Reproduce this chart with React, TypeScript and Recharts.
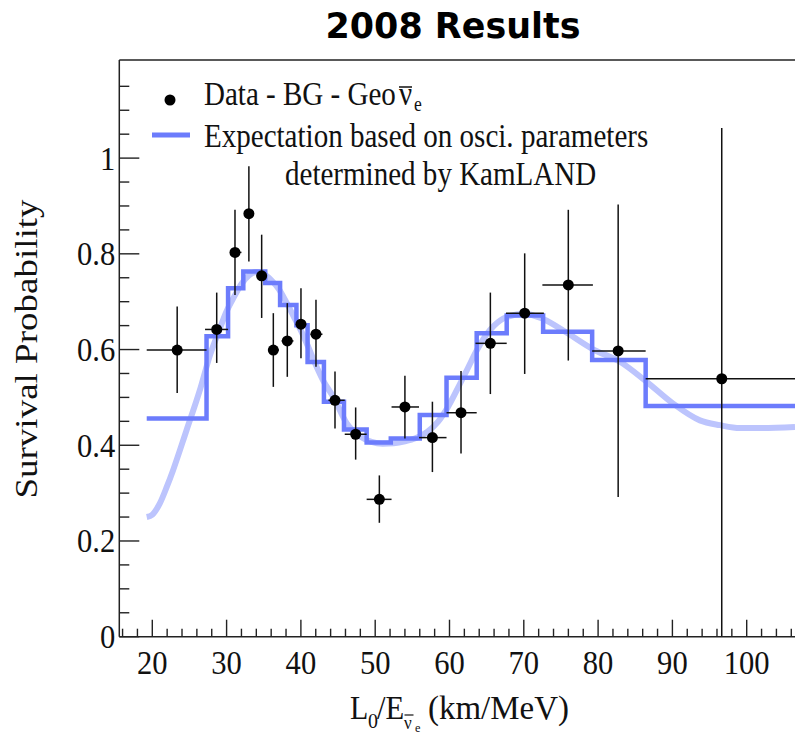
import React from 'react';
import { ComposedChart, Line, Scatter, ErrorBar, XAxis, YAxis, ReferenceLine } from 'recharts';

// data points (Data - BG - Geo anti-nu_e)
const POINT_X = [23.35, 28.67, 31.13, 33.0, 34.72, 36.29, 38.17, 40.01, 42.03, 44.59, 47.37, 50.56, 54.0, 57.7, 61.55, 65.5, 70.12, 75.99, 82.7, 96.64];
const POINT_Y = [0.599, 0.642, 0.803, 0.884, 0.754, 0.599, 0.618, 0.653, 0.632, 0.494, 0.423, 0.287, 0.48, 0.416, 0.468, 0.613, 0.676, 0.735, 0.597, 0.539];
const POINT_Y_LOW = [0.509, 0.572, 0.714, 0.784, 0.666, 0.522, 0.543, 0.582, 0.564, 0.435, 0.37, 0.238, 0.414, 0.344, 0.383, 0.507, 0.549, 0.577, 0.292, 0.0];
const POINT_Y_HIGH = [0.69, 0.719, 0.892, 0.983, 0.84, 0.676, 0.697, 0.728, 0.704, 0.554, 0.479, 0.337, 0.545, 0.491, 0.555, 0.719, 0.801, 0.892, 0.903, 1.063];
const POINT_X_LOW = [19.25, 27.1, 30.46, 32.57, 34.05, 35.6, 37.4, 39.34, 41.3, 43.7, 45.9, 48.85, 52.2, 55.9, 59.6, 63.5, 67.6, 72.5, 79.2, 86.4];
const POINT_X_HIGH = [27.3, 30.2, 32.0, 33.46, 35.4, 37.05, 39.0, 40.69, 42.9, 45.9, 48.85, 52.2, 55.9, 59.6, 63.66, 67.7, 72.7, 79.3, 86.4, 108];

// binned expectation (step histogram): left bin edges + level, last edge closes it
const BIN_EDGES = [19.25, 27.3, 30.2, 32.25, 35.2, 37.2, 39.4, 40.9, 43.1, 45.8, 48.85, 52.1, 56.0, 59.6, 63.66, 67.7, 72.6, 79.2, 86.4, 108];
const BIN_LEVELS = [0.456, 0.628, 0.728, 0.763, 0.739, 0.693, 0.651, 0.574, 0.491, 0.433, 0.406, 0.414, 0.463, 0.541, 0.634, 0.671, 0.637, 0.578, 0.482];

// unbinned expectation curve
const CURVE_X = [19.25, 20, 21, 22, 22.8, 24.6, 26.4, 27.8, 29, 30, 31, 32, 33, 34, 35, 36, 37, 38, 39, 40, 41, 42, 43, 44.4, 46.2, 48, 49.5, 51, 52.5, 54, 55.5, 57, 58.5, 59.6, 61.4, 62.5, 63.66, 65, 66, 67.7, 70.1, 72.6, 75.8, 79.4, 82.9, 86.5, 90.1, 93.7, 96.4, 99.1, 102, 106.5];
const CURVE_Y = [0.25, 0.255, 0.278, 0.315, 0.348, 0.431, 0.515, 0.59, 0.64, 0.68, 0.71, 0.737, 0.755, 0.762, 0.758, 0.745, 0.727, 0.7, 0.67, 0.64, 0.605, 0.568, 0.535, 0.5, 0.445, 0.418, 0.407, 0.403, 0.404, 0.408, 0.415, 0.428, 0.45, 0.475, 0.528, 0.562, 0.598, 0.632, 0.65, 0.668, 0.675, 0.664, 0.635, 0.6, 0.575, 0.533, 0.487, 0.452, 0.442, 0.436, 0.436, 0.438];

const X_TICKS = [16, 18, 20, 22, 24, 26, 28, 30, 32, 34, 36, 38, 40, 42, 44, 46, 48, 50, 52, 54, 56, 58, 60, 62, 64, 66, 68, 70, 72, 74, 76, 78, 80, 82, 84, 86, 88, 90, 92, 94, 96, 98, 100, 102, 104, 106];
const Y_TICKS = [0, 0.05, 0.1, 0.15, 0.2, 0.25, 0.3, 0.35, 0.4, 0.45, 0.5, 0.55, 0.6, 0.65, 0.7, 0.75, 0.8, 0.85, 0.9, 0.95, 1, 1.05, 1.1, 1.15];

const X_MIN = 15.56;
const X_MAX = 106.5;
const Y_MAX = 1.205;

const SERIF = "'Liberation Serif', 'DejaVu Serif', serif";
const AXIS = '#222';
const STEP_BLUE = '#6c7cfc';
const CURVE_BLUE = '#bcc4fd';

const points = POINT_X.map((x, i) => ({
  x,
  y: POINT_Y[i],
  ex: [x - POINT_X_LOW[i], POINT_X_HIGH[i] - x],
  ey: [POINT_Y[i] - POINT_Y_LOW[i], POINT_Y_HIGH[i] - POINT_Y[i]],
}));
const steps = BIN_EDGES.map((x, i) => ({ x, y: BIN_LEVELS[Math.min(i, BIN_LEVELS.length - 1)] }));
const curve = CURVE_X.map((x, i) => ({ x, y: CURVE_Y[i] }));

const XTick = (props: any) => {
  const { x, y, payload } = props;
  const v = payload.value;
  const major = v % 10 === 0;
  return (
    <g>
      <line x1={x} x2={x} y1={y} y2={y - (major ? 17 : 8)} stroke={AXIS} strokeWidth={1.4} />
      {major && (
        <text transform={`translate(${x},${y + 37.3}) scale(0.9,1)`} textAnchor="middle" fontFamily={SERIF} fontSize={34} fill="#111">
          {v}
        </text>
      )}
    </g>
  );
};

const YTick = (props: any) => {
  const { x, y, payload } = props;
  const v = payload.value;
  const major = Math.abs(v * 5 - Math.round(v * 5)) < 1e-6;
  return (
    <g>
      <line x1={x} x2={x + (major ? 20 : 10)} y1={y} y2={y} stroke={AXIS} strokeWidth={1.4} />
      {major && (
        <text transform={`translate(${x - 4},${y + 11.5}) scale(0.9,1)`} textAnchor="end" fontFamily={SERIF} fontSize={34} fill="#111">
          {String(Math.round(v * 10) / 10)}
        </text>
      )}
    </g>
  );
};

const Dot = (props: any) => <circle cx={props.cx} cy={props.cy} r={5.5} fill="#000" />;

export default function App() {
  return (
    <div style={{ position: 'absolute', left: 0, top: 0, width: 795, height: 736, overflow: 'hidden', background: '#fff' }}>
      <ComposedChart width={795} height={736} margin={{ top: 60, right: 0, left: 0, bottom: 0 }}>
        <XAxis
          dataKey="x"
          type="number"
          domain={[X_MIN, X_MAX]}
          allowDataOverflow
          ticks={X_TICKS}
          interval={0}
          tick={<XTick />}
          tickLine={false}
          tickSize={0}
          tickMargin={0}
          height={99.3}
          axisLine={{ stroke: AXIS, strokeWidth: 1.5 }}
        />
        <YAxis
          type="number"
          domain={[0, Y_MAX]}
          allowDataOverflow
          ticks={Y_TICKS}
          interval={0}
          tick={<YTick />}
          tickLine={false}
          tickSize={0}
          tickMargin={0}
          width={119.3}
          axisLine={{ stroke: AXIS, strokeWidth: 1.5 }}
        />
        <ReferenceLine y={Y_MAX} stroke={AXIS} strokeWidth={1.5} />
        <Line data={curve} dataKey="y" type="monotone" stroke={CURVE_BLUE} strokeWidth={6} dot={false} isAnimationActive={false} />
        <Line data={steps} dataKey="y" type="stepAfter" stroke={STEP_BLUE} strokeWidth={4.5} dot={false} isAnimationActive={false} />
        <Scatter data={points} dataKey="y" shape={<Dot />} isAnimationActive={false}>
          <ErrorBar dataKey="ex" direction="x" width={0} stroke="#111" strokeWidth={1.5} isAnimationActive={false} />
          <ErrorBar dataKey="ey" direction="y" width={0} stroke="#111" strokeWidth={1.5} isAnimationActive={false} />
        </Scatter>
      </ComposedChart>

      <svg width={795} height={736} style={{ position: 'absolute', left: 0, top: 0, pointerEvents: 'none' }}>
        <text transform="translate(453,38.3) scale(0.97,1)" textAnchor="middle" fontFamily="'DejaVu Sans', sans-serif" fontWeight="bold" fontSize={36} fill="#000">
          2008 Results
        </text>

        {/* legend */}
        <circle cx={170} cy={100} r={5.5} fill="#000" />
        <text transform="translate(204,105) scale(0.88,1)" fontFamily={SERIF} fontSize={33} fill="#111">
          Data - BG - Geo
        </text>
        <text transform="translate(399,105) scale(0.88,1)" fontFamily={SERIF} fontSize={33} fill="#111">
          {'\u03BD'}
        </text>
        <line x1={399} x2={412} y1={87} y2={87} stroke="#111" strokeWidth={1.5} />
        <text transform="translate(414,111) scale(0.88,1)" fontFamily={SERIF} fontSize={20} fill="#111">
          e
        </text>
        <line x1={152} x2={190} y1={135} y2={135} stroke={STEP_BLUE} strokeWidth={5} />
        <text transform="translate(204,147) scale(0.88,1)" fontFamily={SERIF} fontSize={33} fill="#111">
          Expectation based on osci. parameters
        </text>
        <text transform="translate(285,185) scale(0.88,1)" fontFamily={SERIF} fontSize={33} fill="#111">
          determined by KamLAND
        </text>

        {/* y title */}
        <text transform="translate(37,349) scale(0.88,1) rotate(-90)" textAnchor="middle" fontFamily={SERIF} fontSize={37} fill="#111">
          Survival Probability
        </text>

        {/* x title */}
        <g fontFamily={SERIF} fill="#111">
          <text transform="translate(350,719.3) scale(0.88,1)" fontSize={34}>L</text>
          <text transform="translate(368,728) scale(0.95,1)" fontSize={21}>0</text>
          <text transform="translate(377,719.3) scale(0.9,1)" fontSize={34}>/E</text>
          <text transform="translate(404,729) scale(0.95,1)" fontSize={18}>{'\u03BD'}</text>
          <line x1={404.5} x2={413.5} y1={715} y2={715} stroke="#111" strokeWidth={1.2} />
          <text transform="translate(415,732) scale(0.95,1)" fontSize={13}>e</text>
          <text transform="translate(428,719.3) scale(0.97,1)" fontSize={34}>(km/MeV)</text>
        </g>
      </svg>
    </div>
  );
}
